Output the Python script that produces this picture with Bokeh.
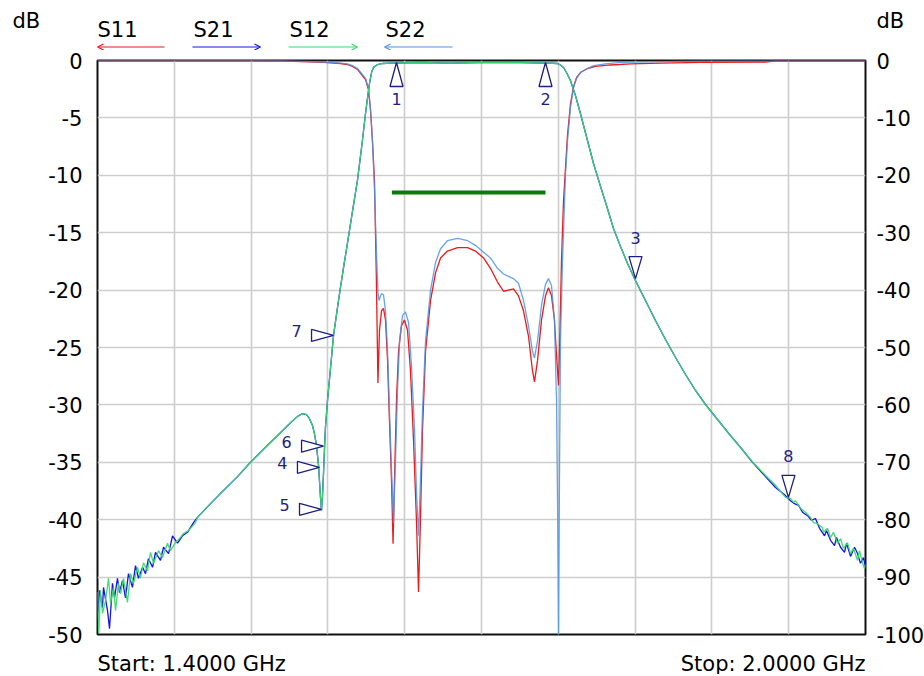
from bokeh.plotting import figure
from bokeh.models import Range1d, LinearAxis, FixedTicker, Label, Arrow, OpenHead, ColumnDataSource
from bokeh.embed import file_html
from bokeh.resources import INLINE
from bokeh.core.properties import value

# ---------------- data ----------------
x_ticks = [1400, 1460, 1520, 1580, 1640, 1700, 1760, 1820, 1880, 1940, 2000]
left_ticks = [0, -5, -10, -15, -20, -25, -30, -35, -40, -45, -50]
right_ticks = [0, -10, -20, -30, -40, -50, -60, -70, -80, -90, -100]

# transmission (right axis, dB) -- low-frequency noisy part
s12_left_mhz = [1400.0, 1401.0, 1402.3, 1403.9, 1406.3, 1408.6, 1410.2, 1412.5, 1414.1, 1416.4,
                1418.0, 1420.3, 1423.4, 1425.8, 1428.1, 1431.3, 1433.6, 1435.9, 1439.1, 1441.4,
                1443.8, 1447.7, 1450.8, 1454.7, 1457.0, 1460.9, 1464.8, 1467.2, 1471.1, 1476.6]
s12_left_db = [-92.6, -99.8, -92.3, -96.3, -94.1, -90.2, -94.6, -91.8, -95.8, -91.1,
               -92.9, -90.2, -94.4, -89.4, -91.1, -88.3, -90.2, -87.5, -88.9, -85.7,
               -87.6, -85.4, -86.6, -84.1, -85.4, -84.0, -83.1, -82.4, -81.9, -80.5]
s21_left_mhz = [1400.0, 1401.6, 1403.9, 1404.7, 1407.8, 1409.4, 1411.7, 1413.3, 1415.6, 1417.2,
                1419.5, 1421.9, 1424.2, 1427.3, 1429.7, 1432.0, 1435.2, 1437.5, 1439.8, 1443.0,
                1445.3, 1449.2, 1451.6, 1455.5, 1458.6, 1462.5, 1466.4, 1470.3, 1475.0]
s21_left_db = [-97.0, -92.3, -95.3, -91.8, -95.8, -99.0, -91.1, -93.6, -90.2, -92.7,
               -90.6, -93.6, -89.4, -91.8, -88.0, -90.2, -88.3, -89.4, -86.8, -88.3,
               -85.7, -87.1, -84.8, -85.9, -82.8, -84.1, -82.8, -82.2, -80.5]

# transmission -- smooth middle part shared by S21 and S12
trans_mid_mhz = [1478.1, 1488.3, 1498.4, 1509.4, 1519.5, 1528.9, 1536.7, 1544.5, 1550.8, 1556.3,
                 1560.2, 1563.3, 1565.6, 1568.0, 1569.5, 1571.1, 1572.7, 1573.4, 1574.2, 1575.0,
                 1575.8, 1576.6, 1577.3, 1578.1, 1579.7, 1582.0, 1584.4, 1588.3, 1592.2, 1596.1,
                 1599.2, 1603.1, 1607.0, 1609.4, 1611.0, 1612.5, 1614.1, 1615.6, 1618.8, 1622.7,
                 1628.9, 1652.3, 1675.8, 1699.2, 1730.5, 1750.0, 1755.5, 1759.4, 1761.7, 1764.1,
                 1766.4, 1769.5, 1773.4, 1777.3, 1782.8, 1787.5, 1793.0, 1798.4, 1803.1, 1808.6,
                 1814.1, 1819.5, 1828.1, 1835.9, 1843.8, 1851.6, 1859.4, 1867.2, 1875.0, 1884.4,
                 1893.8, 1903.1]
trans_mid_db = [-79.6, -77.2, -74.9, -72.5, -70.0, -67.9, -66.2, -64.5, -63.1, -62.0,
                -61.5, -61.7, -62.4, -63.6, -65.0, -67.1, -70.6, -73.2, -76.1, -78.4,
                -75.8, -71.8, -67.9, -63.9, -59.2, -53.7, -47.9, -41.8, -36.1, -30.7,
                -26.3, -20.9, -13.9, -9.2, -6.4, -4.0, -2.1, -1.2, -0.70, -0.52,
                -0.44, -0.35, -0.44, -0.35, -0.35, -0.44, -0.48, -0.52, -0.78, -1.22,
                -2.09, -3.48, -6.10, -9.23, -13.94, -17.94, -21.95, -25.78, -29.27, -32.40,
                -35.37, -37.98, -41.81, -45.30, -48.61, -51.74, -54.70, -57.49, -59.93, -62.54,
                -65.16, -67.60]

# transmission -- high-frequency noisy part
s12_right_mhz = [1911.7, 1921.9, 1929.7, 1937.5, 1941.4, 1943.8, 1945.3, 1949.2, 1953.1, 1957.0,
                 1959.4, 1962.5, 1966.4, 1967.2, 1970.3, 1972.7, 1975.0, 1978.1, 1980.5, 1982.8,
                 1985.9, 1988.3, 1990.6, 1993.8, 1995.3, 1997.7, 1999.2, 2000.0]
s12_right_db = [-69.9, -72.3, -74.0, -76.1, -76.3, -77.0, -76.7, -78.0, -78.7, -79.6,
                -80.5, -80.7, -81.4, -82.2, -81.5, -83.1, -82.2, -84.1, -83.3, -85.0,
                -84.0, -85.9, -85.0, -87.1, -85.4, -87.5, -88.5, -87.8]
s21_right_mhz = [1910.9, 1921.9, 1929.7, 1937.5, 1941.4, 1944.5, 1947.7, 1950.8, 1954.7, 1957.8,
                 1960.9, 1964.1, 1968.0, 1969.5, 1972.7, 1975.8, 1977.3, 1980.5, 1983.6, 1985.2,
                 1988.3, 1991.4, 1993.8, 1996.1, 1998.4, 2000.0]
s21_right_db = [-69.8, -72.5, -74.4, -75.8, -76.7, -77.2, -77.5, -78.7, -79.3, -80.1,
                -79.8, -81.5, -82.8, -81.9, -83.6, -84.5, -83.1, -84.8, -85.7, -84.1,
                -86.4, -84.8, -85.9, -87.6, -86.6, -88.2]

# reflection (left axis, dB)
s11_mhz = [1400.0, 1519.5, 1543.0, 1558.6, 1576.6, 1589.8, 1595.3, 1599.2, 1603.1, 1606.3,
           1609.4, 1611.7, 1613.3, 1614.8, 1616.4, 1617.9, 1619.1, 1620.3, 1621.9, 1623.4,
           1625.0, 1626.6, 1628.1, 1629.7, 1630.9, 1632.0, 1633.6, 1635.2, 1637.5, 1639.8,
           1642.2, 1644.5, 1646.9, 1649.2, 1650.8, 1652.3, 1653.9, 1656.3, 1660.2, 1664.1,
           1668.0, 1673.4, 1681.3, 1689.1, 1695.3, 1701.6, 1707.0, 1712.5, 1717.2, 1721.1,
           1725.0, 1728.9, 1732.8, 1736.7, 1739.8, 1741.4, 1743.8, 1746.9, 1750.0, 1752.3,
           1754.7, 1757.0, 1758.6, 1760.2, 1761.3, 1762.5, 1764.1, 1765.6, 1767.2, 1769.5,
           1771.9, 1774.2, 1777.3, 1782.8, 1789.1, 1800.8, 1816.4, 1839.8, 1871.1, 1921.9,
           1929.7, 2000.0]
s11_db = [0.0, -0.01, -0.04, -0.09, -0.17, -0.26, -0.35, -0.52, -0.78, -1.22,
          -1.66, -2.53, -4.36, -6.97, -10.45, -19.2, -28.1, -23.5, -21.8, -21.6,
          -22.6, -26.1, -31.4, -36.6, -42.1, -36.6, -29.6, -25.3, -23.1, -22.6,
          -23.5, -27.0, -33.1, -40.1, -46.3, -40.1, -32.2, -25.3, -20.9, -18.5,
          -17.2, -16.6, -16.3, -16.3, -16.6, -17.2, -18.1, -19.3, -20.1, -20.0,
          -19.9, -20.5, -21.8, -24.0, -27.0, -28.0, -26.1, -22.6, -20.5, -19.8,
          -20.5, -22.6, -25.7, -28.3, -23.5, -17.4, -12.2, -9.4, -6.5, -3.8,
          -2.3, -1.5, -1.05, -0.70, -0.52, -0.39, -0.30, -0.22, -0.17, -0.13,
          -0.04, -0.03]

s22_mhz = [1400.0, 1543.0, 1558.6, 1576.6, 1589.8, 1595.3, 1599.2, 1603.1, 1606.3, 1609.4,
           1611.7, 1613.3, 1614.8, 1616.4, 1617.9, 1619.1, 1619.9, 1621.9, 1623.4, 1625.0,
           1626.6, 1628.1, 1629.7, 1631.3, 1632.8, 1634.4, 1636.0, 1638.3, 1640.6, 1643.0,
           1645.3, 1647.7, 1649.2, 1650.8, 1652.3, 1653.9, 1656.3, 1660.2, 1664.1, 1668.0,
           1673.4, 1681.3, 1689.1, 1695.3, 1701.6, 1707.0, 1712.5, 1717.2, 1721.1, 1725.0,
           1728.9, 1732.8, 1736.7, 1739.8, 1741.4, 1743.8, 1746.9, 1750.0, 1752.3, 1754.7,
           1757.0, 1758.6, 1759.4, 1760.2, 1760.9, 1761.7, 1763.3, 1765.6, 1767.2, 1769.5,
           1771.9, 1774.2, 1777.3, 1782.8, 1787.5, 1796.9, 1808.6, 1839.8, 1871.1, 2000.0]
s22_db = [0.0, -0.02, -0.06, -0.13, -0.22, -0.30, -0.44, -0.70, -1.13, -1.57,
          -2.44, -4.18, -6.97, -11.3, -16.6, -20.2, -20.9, -20.3, -20.4, -21.8,
          -25.3, -30.5, -35.7, -40.3, -34.8, -28.7, -24.4, -22.2, -21.9, -22.8,
          -26.6, -32.2, -37.5, -41.4, -36.6, -30.5, -24.4, -20.0, -17.6, -16.4,
          -15.7, -15.5, -15.7, -16.1, -16.7, -17.2, -18.1, -18.6, -18.8, -19.0,
          -19.4, -20.9, -23.1, -25.3, -25.9, -24.4, -21.3, -19.5, -19.0, -19.6,
          -22.6, -29.6, -38.3, -50.0, -36.6, -24.4, -17.4, -10.0, -7.0, -4.1,
          -2.35, -1.57, -1.05, -0.70, -0.44, -0.30, -0.17, -0.09, -0.04, -0.03]

# spec limit line (left axis)
spec_mhz = [1630.0, 1750.0]
spec_db = [-11.5, -11.5]

# markers on S12 (right axis)
marker_ids = ["1", "2", "3", "4", "5", "6", "7", "8"]
marker_mhz = [1633.6, 1750.0, 1820.3, 1573.4, 1575.0, 1576.6, 1584.4, 1939.8]
marker_db = [-0.35, -0.35, -38.0, -70.9, -78.2, -67.2, -47.9, -76.1]
marker_dir = ["up", "up", "down", "right", "right", "right", "right", "down"]

legend_names = ["S11", "S21", "S12", "S22"]
start_text = "Start: 1.4000 GHz"
stop_text = "Stop: 2.0000 GHz"

# ---------------- styling / layout ----------------
C_S11 = "#f01818"
C_S21 = "#1414e6"
C_S12 = "#3ad86e"
C_S22 = "#4a94ea"
C_SPEC = "#0a7a0a"
C_MK = "#1e1e82"
FONT = "DejaVu Sans"
W = 924
FL, FW, FR = 97, 768, 59      # main plot: left border, frame width, right border
TOP_H, BORDER_T, FH, BORDER_B, BOT_H = 50, 10, 574, 14, 26
X0, X1 = 1400, 2000

def strip(height):
    f = figure(width=W, height=height, output_backend="svg", toolbar_location=None,
               x_range=Range1d(0, W), y_range=Range1d(height, 0),
               min_border_left=0, min_border_right=0, min_border_top=0, min_border_bottom=0,
               background_fill_color="white", border_fill_color="white")
    f.axis.visible = False
    f.grid.visible = False
    f.outline_line_color = None
    return f

# ---- main chart ----
p = figure(frame_width=FW, frame_height=FH, output_backend="svg", toolbar_location=None,
           x_range=Range1d(X0, X1), y_range=Range1d(-50, 0),
           min_border_left=FL, min_border_top=BORDER_T, min_border_right=FR, min_border_bottom=BORDER_B,
           background_fill_color="white", border_fill_color="white")
p.extra_y_ranges = {"right": Range1d(-100, 0)}

p.xaxis.visible = False
p.xgrid.ticker = FixedTicker(ticks=x_ticks)
p.ygrid.ticker = FixedTicker(ticks=left_ticks)
for g in (p.xgrid[0], p.ygrid[0]):
    g.grid_line_color = "#cdcdcd"
    g.grid_line_width = 1.6

ly = p.yaxis[0]
ly.ticker = FixedTicker(ticks=left_ticks)
ly.major_label_overrides = {t: str(t) for t in left_ticks}
ry = LinearAxis(y_range_name="right", ticker=FixedTicker(ticks=right_ticks))
ry.major_label_overrides = {t: str(t) for t in right_ticks}
p.add_layout(ry, "right")
for ax, so in ((ly, 15), (ry, 11)):
    ax.axis_line_color = None
    ax.major_tick_line_color = None
    ax.minor_tick_line_color = None
    ax.major_tick_out = 0
    ax.major_tick_in = 0
    ax.major_label_standoff = so
    ax.major_label_text_font = FONT
    ax.major_label_text_font_size = "21px"
    ax.major_label_text_color = "black"

p.outline_line_color = "#111111"
p.outline_line_width = 2
p.outline_line_alpha = 1

s21_mhz = s21_left_mhz + trans_mid_mhz + s21_right_mhz
s21_db = s21_left_db + trans_mid_db + s21_right_db
s12_mhz = s12_left_mhz + trans_mid_mhz + s12_right_mhz
s12_db = s12_left_db + trans_mid_db + s12_right_db

p.line(s11_mhz, s11_db, line_color=C_S11, line_width=1.3)
p.line(s22_mhz, s22_db, line_color=C_S22, line_width=1.3, line_alpha=0.85)
p.line(s21_mhz, s21_db, line_color=C_S21, line_width=1.3, y_range_name="right")
p.line(s12_mhz, s12_db, line_color=C_S12, line_width=1.3, line_alpha=0.95, y_range_name="right")
p.line(spec_mhz, spec_db, line_color=C_SPEC, line_width=4)

# marker triangles (tip on the trace); triangle sizes are pixels converted to data units
pxx = (X1 - X0) / FW
pxy = 100.0 / FH
xs, ys, lx_off, ly_off = [], [], [], []
for xm, ym, d in zip(marker_mhz, marker_db, marker_dir):
    if d == "up":
        xs.append([xm, xm - 6.5 * pxx, xm + 6.5 * pxx])
        ys.append([ym, ym - 24 * pxy, ym - 24 * pxy])
        lx_off.append(0); ly_off.append(36)
    elif d == "down":
        xs.append([xm, xm - 6.5 * pxx, xm + 6.5 * pxx])
        ys.append([ym, ym + 22 * pxy, ym + 22 * pxy])
        lx_off.append(0); ly_off.append(-41)
    else:
        xs.append([xm, xm - 22 * pxx, xm - 22 * pxx])
        ys.append([ym, ym + 6 * pxy, ym - 6 * pxy])
        lx_off.append(-37); ly_off.append(-4)
p.patches(xs, ys, fill_color="white", line_color=C_MK, line_width=1.3, y_range_name="right")
msrc = ColumnDataSource(dict(x=marker_mhz, y=marker_db, t=marker_ids, xo=lx_off, yo=ly_off))
p.text(x="x", y="y", text="t", x_offset="xo", y_offset="yo", source=msrc,
       text_font=value(FONT), text_font_size="16px", text_color=C_MK,
       text_align="center", text_baseline="middle", y_range_name="right")

# ---- header strip: dB units and trace legend ----
lab_kw = dict(text_font=FONT, text_font_size="21px", text_color="black", text_baseline="middle")
top = strip(TOP_H)
top.add_layout(Label(x=12, y=20, text="dB", **lab_kw))
top.add_layout(Label(x=876, y=20, text="dB", **lab_kw))
leg_x = [97, 193, 289, 385]
leg_colors = [C_S11, C_S21, C_S12, C_S22]
leg_arrow = [(164, 97), (192, 260), (288, 357), (452, 384)]
for name, lx, col, (a0, a1) in zip(legend_names, leg_x, leg_colors, leg_arrow):
    top.add_layout(Label(x=lx, y=29, text=name, **lab_kw))
    top.add_layout(Arrow(x_start=a0, y_start=46.5, x_end=a1, y_end=46.5, line_color=col, line_width=1.2,
                         end=OpenHead(size=6, line_color=col, line_width=1.2)))

# ---- footer strip: sweep limits ----
bot = strip(BOT_H)
bot.add_layout(Label(x=FL, y=15, text=start_text, text_align="left", **lab_kw))
bot.add_layout(Label(x=FL + FW, y=15, text=stop_text, text_align="right", **lab_kw))

open("out.html", "w").write(file_html([top, p, bot], INLINE))
